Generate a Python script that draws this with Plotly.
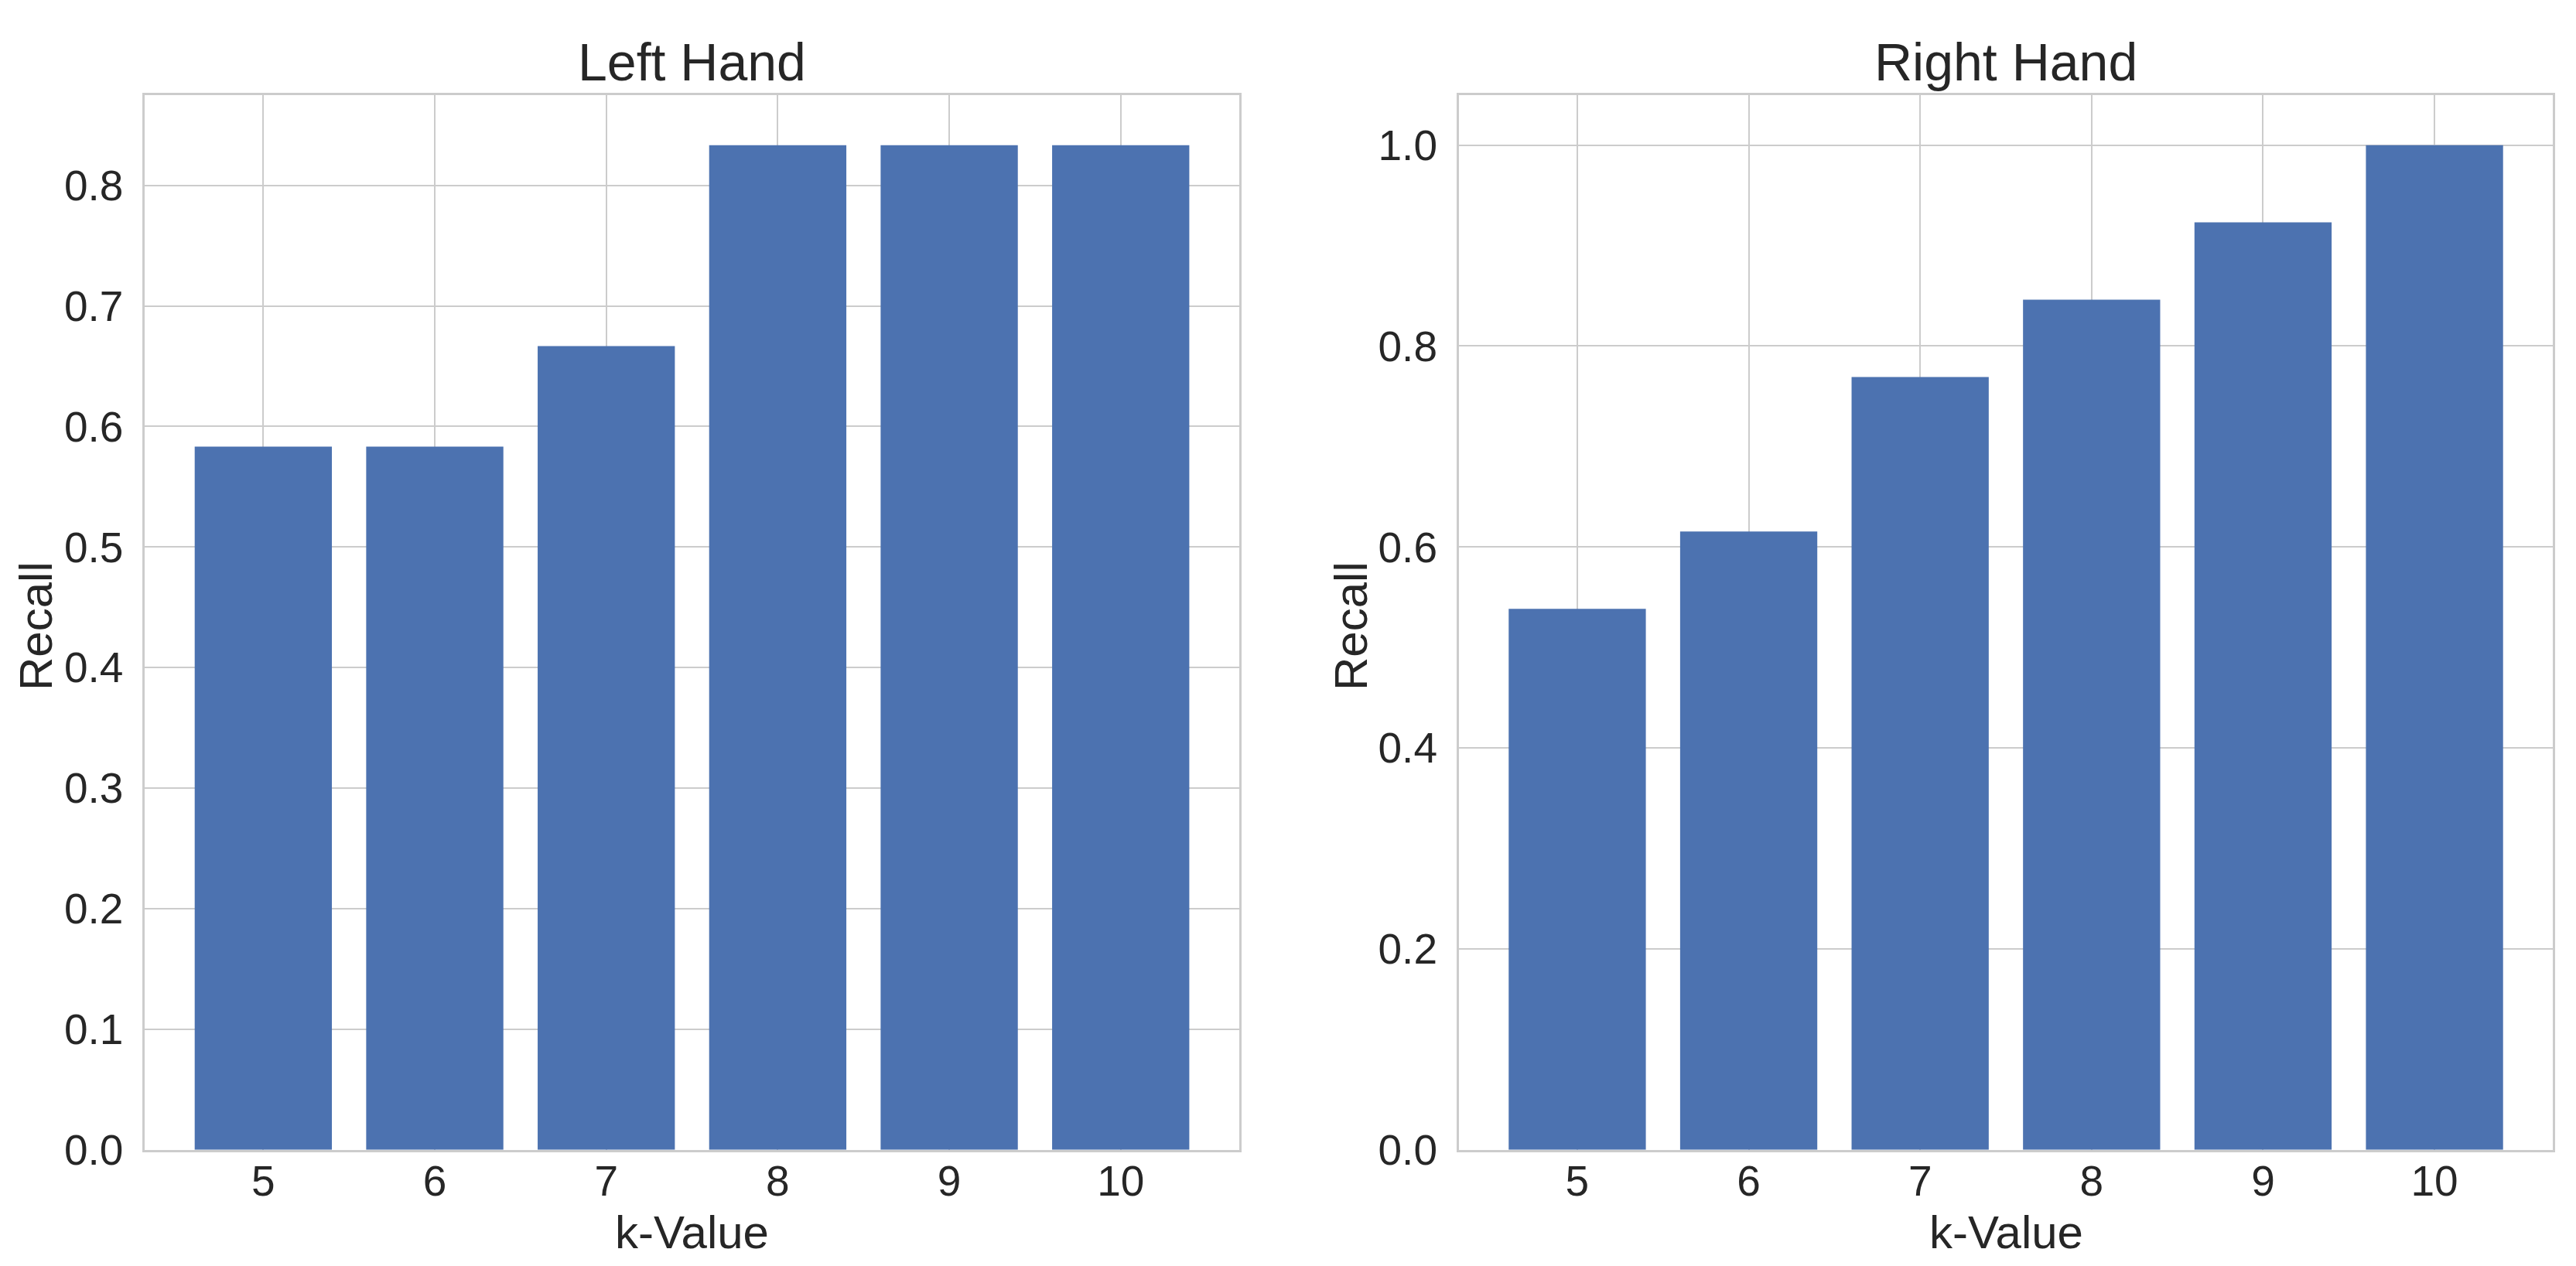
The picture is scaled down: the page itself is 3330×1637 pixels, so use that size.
import plotly.graph_objects as go

k_values = [5, 6, 7, 8, 9, 10]
left_recall = [0.5833, 0.5833, 0.6667, 0.8333, 0.8333, 0.8333]
right_recall = [0.5385, 0.6154, 0.7692, 0.8462, 0.9231, 1.0]
titles = ["Left Hand", "Right Hand"]
x_label = "k-Value"
y_label = "Recall"

W, H = 3330, 1637
BAR = "#4C72B0"
GRID = "#cccccc"
TXT = "#262626"
FONT = "Liberation Sans, Arial, sans-serif"

fig = go.Figure()
fig.add_trace(go.Bar(x=k_values, y=left_recall, marker=dict(color=BAR, line=dict(width=0)),
                     xaxis="x", yaxis="y", showlegend=False))
fig.add_trace(go.Bar(x=k_values, y=right_recall, marker=dict(color=BAR, line=dict(width=0)),
                     xaxis="x2", yaxis="y2", showlegend=False))

def px_x(v):
    return v / W

def px_y(v):
    return 1 - v / H

xdom1 = [px_x(187.4), px_x(1601.7)]
xdom2 = [px_x(1886), px_x(3300)]
ydom = [px_y(1486.7), px_y(122.7)]

common_x = dict(range=[4.31, 10.69], tickvals=k_values, ticktext=[str(k) for k in k_values],
                showgrid=True, gridcolor=GRID, gridwidth=2, showline=True, linecolor=GRID,
                linewidth=3, mirror=True, zeroline=False, ticks="outside", ticklen=14,
                ticklabelstandoff=-24, automargin=False,
                tickcolor="rgba(0,0,0,0)", tickfont=dict(size=55, color=TXT, family=FONT))
common_y = dict(showgrid=True, gridcolor=GRID, gridwidth=2, showline=True, linecolor=GRID,
                linewidth=3, mirror=True, zeroline=False, ticks="outside", ticklen=14,
                automargin=False,
                tickcolor="rgba(0,0,0,0)", tickfont=dict(size=55, color=TXT, family=FONT),
                tickformat=".1f")

fig.update_layout(
    width=W, height=H,
    margin=dict(l=0, r=0, t=0, b=0, autoexpand=False),
    paper_bgcolor="white", plot_bgcolor="white",
    bargap=0.2,
    font=dict(family=FONT, color=TXT),
    xaxis=dict(domain=xdom1, anchor="y", **common_x),
    yaxis=dict(domain=ydom, anchor="x", range=[0, 0.875], dtick=0.1, tick0=0, **common_y),
    xaxis2=dict(domain=xdom2, anchor="y2", **common_x),
    yaxis2=dict(domain=ydom, anchor="x2", range=[0, 1.05], dtick=0.2, tick0=0, **common_y),
)

annots = []
for i, (dom, t) in enumerate(zip([xdom1, xdom2], titles)):
    cx = (dom[0] + dom[1]) / 2
    annots.append(dict(text=t, x=cx, y=px_y(80), xref="paper", yref="paper",
                       xanchor="center", yanchor="middle", showarrow=False,
                       font=dict(size=68, color=TXT, family=FONT)))
    annots.append(dict(text=x_label, x=cx, y=px_y(1593), xref="paper", yref="paper",
                       xanchor="center", yanchor="middle", showarrow=False,
                       font=dict(size=60, color=TXT, family=FONT)))
for xc in [46, 1746]:
    annots.append(dict(text=y_label, x=px_x(xc), y=px_y(810), xref="paper", yref="paper",
                       xanchor="center", yanchor="middle", showarrow=False, textangle=-90,
                       font=dict(size=60, color=TXT, family=FONT)))
fig.update_layout(annotations=annots)

fig.write_html("out.html", config={"displayModeBar": False},
               post_script="document.body.style.margin='0';")
